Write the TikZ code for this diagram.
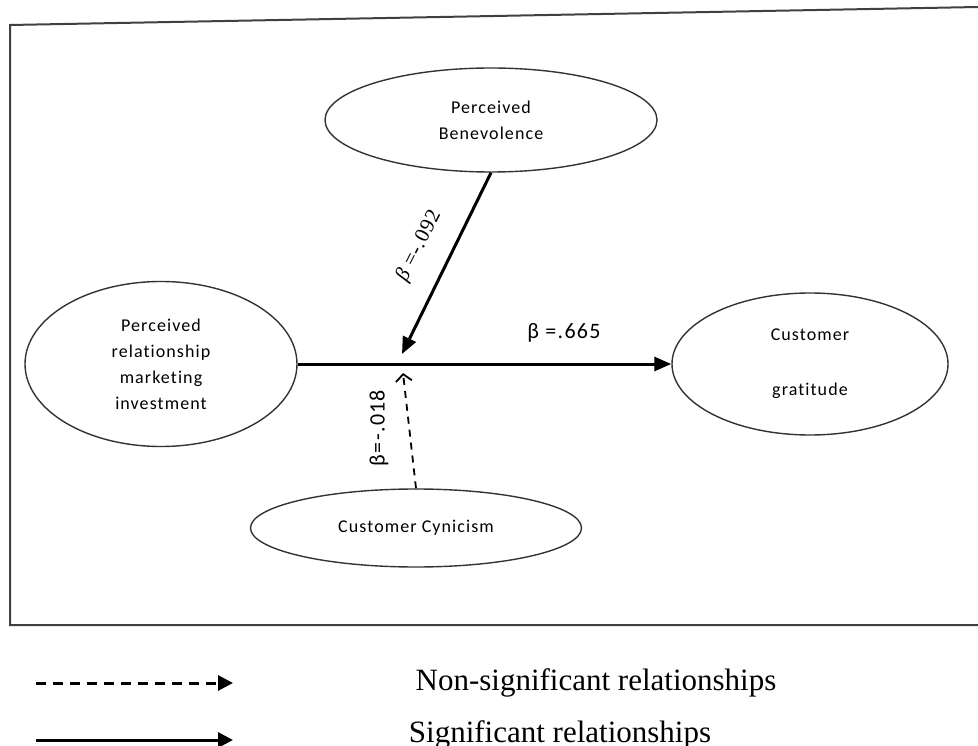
\documentclass[tikz,border=0pt]{standalone}
\usepackage{fontspec}
\usetikzlibrary{shapes.geometric,arrows.meta}
\newfontfamily\boxfont[LetterSpace=6,Ligatures=NoCommon]{Carlito}
\newfontfamily\coeffont[LetterSpace=4]{Liberation Serif}
\newfontfamily\legfont{Liberation Serif}
\begin{document}
\begin{tikzpicture}[x=1pt,y=-1pt,
  latent/.style={draw=black!80,line width=1.4pt,ellipse,inner sep=0pt,
    align=center,font=\boxfont\fontsize{18}{26}\selectfont},
  sigpath/.style={line width=3pt,-{Triangle[length=17pt,width=14pt]}},
  nspath/.style={line width=1.8pt,dash pattern=on 7pt off 6pt,
    -{Straight Barb[length=7pt,width=16pt,line width=1.8pt]}},
  coef/.style={inner sep=0pt,font=\boxfont\fontsize{22}{26}\selectfont},
  legdash/.style={line width=3pt,dash pattern=on 10pt off 7pt,
    -{Triangle[length=15pt,width=15pt]}},
  legsolid/.style={line width=3pt,-{Triangle[length=15pt,width=15pt]}},
  legtext/.style={inner sep=0pt,anchor=base,font=\legfont\fontsize{31}{36}\selectfont}
]
\useasboundingbox (0,0) rectangle (978,746);

% outer frame
\draw[draw=black!75,line width=2pt] (978,7) -- (10,25) -- (10,625) -- (978,625);

% constructs
\node[latent,minimum width=332pt,minimum height=104pt] (ben) at (491,120)
  {Perceived\\Benevolence};
\node[latent,minimum width=272pt,minimum height=165pt] (prm) at (161,364)
  {Perceived\\relationship\\marketing\\investment};
\node[latent,minimum width=276pt,minimum height=142pt] (grat) at (810,364)
  {Customer\\[29pt]gratitude};
\node[latent,minimum width=331pt,minimum height=78pt] (cyn) at (416,528)
  {Customer Cynicism};

% moderation points on the main path
\coordinate (mtop) at (402,354);
\coordinate (mbot) at (403,373);

% paths
\draw[sigpath] (prm.east) -- (grat.west);
\draw[sigpath] (ben.south) -- (mtop);
\draw[nspath] (cyn.north) -- (mbot);

% coefficients
\node[coef] (c665) at (564,333) {β =.665};
\node[inner sep=0pt,rotate=63,font=\coeffont\fontsize{21}{26}\selectfont] (c092) at (419,246)
  {{\itshape β} =-.092};
\node[coef,rotate=90] (c018) at (379,428) {β=-.018};

% legend
\coordinate (nsA) at (36,683);
\coordinate (nsB) at (233,683);
\coordinate (sA) at (36,740);
\coordinate (sB) at (233,740);
\draw[legdash] (nsA) -- (nsB);
\draw[legsolid] (sA) -- (sB);
\node[legtext] (nslab) at (596,690) {Non-significant relationships};
\node[legtext] (slab) at (560,742) {Significant relationships};
\end{tikzpicture}
\end{document}
